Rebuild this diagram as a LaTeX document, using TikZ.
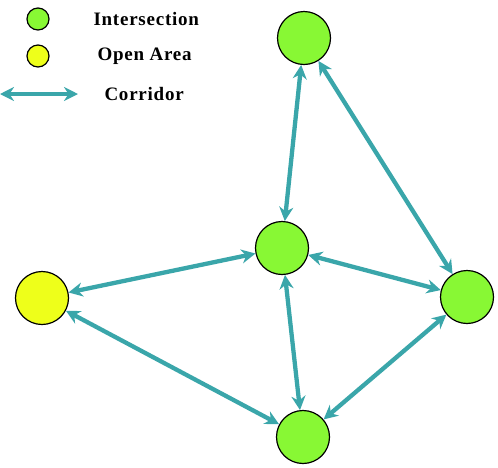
\documentclass[tikz,border=0pt]{standalone}
\usepackage{fontspec}
\setmainfont{Liberation Serif}
\newfontfamily\legendfont[LetterSpace=4]{Liberation Serif}
\usetikzlibrary{calc, positioning}
\usetikzlibrary{arrows.meta}

\begin{document}
\begin{tikzpicture}[x=1pt,y=-1pt]
\definecolor{corridorteal}{RGB}{58,166,170}
\definecolor{crossgreen}{RGB}{136,248,52}
\definecolor{areayellow}{RGB}{238,255,26}
\def\noderadius{26.5}
\def\legendradius{11}
\tikzset{
  place/.style={circle,draw=black,line width=1.2pt,minimum size=2*\noderadius pt,inner sep=0pt},
  crossing/.style={place,fill=crossgreen},
  openarea/.style={place,fill=areayellow},
  corridor/.style={line width=4.3pt,draw=corridorteal,{Stealth[length=14pt,width=14pt]}-{Stealth[length=14pt,width=14pt]}},
  legendtext/.style={font=\legendfont\bfseries\fontsize{19}{21}\selectfont,anchor=west}
}
\useasboundingbox (0,0) rectangle (498,467);

% legend
\node[crossing,minimum size=2*\legendradius pt] (KeyCross) at (38,19) {};
\node[openarea,minimum size=2*\legendradius pt] (KeyOpen) at (38,56) {};
\coordinate (KeyLeft) at (0,94);
\coordinate (KeyRight) at (78,94);
\draw[corridor] (KeyLeft) -- (KeyRight);
\node[legendtext] at (90,19) {Intersection};
\node[legendtext] at (94,56) {Open Area};
\node[legendtext] at (101,94) {Corridor};

% places
\node[crossing] (Top) at (304,38) {};
\node[crossing] (Center) at (282,248) {};
\node[openarea] (Left) at (42,298) {};
\node[crossing] (Right) at (467,297) {};
\node[crossing] (Bottom) at (303,437) {};

% corridors
\draw[corridor] (Top) -- (Center);
\draw[corridor] (Top) -- (Right);
\draw[corridor] (Center) -- (Left);
\draw[corridor] (Center) -- (Right);
\draw[corridor] (Center) -- (Bottom);
\draw[corridor] (Left) -- (Bottom);
\draw[corridor] (Bottom) -- (Right);
\end{tikzpicture}
\end{document}
